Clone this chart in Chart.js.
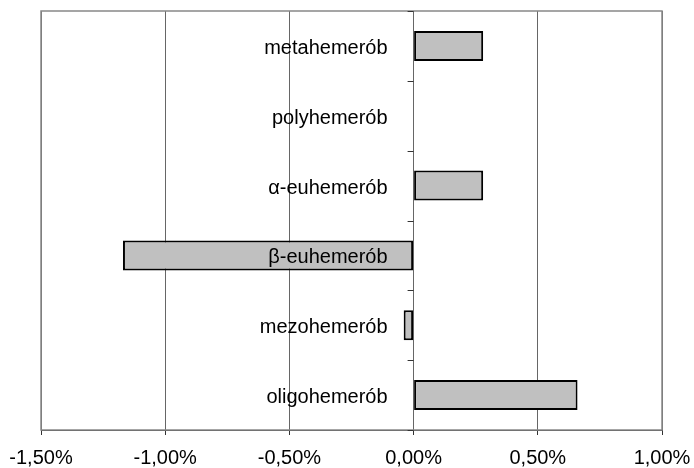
<!DOCTYPE html>
<html>
<head>
<meta charset="utf-8">
<script src="https://cdn.jsdelivr.net/npm/chart.js"></script>
<style>
  html, body { margin: 0; padding: 0; background: #fff; }
  #wrap { width: 694px; height: 468px; }
</style>
</head>
<body>
<div id="wrap"><canvas id="c" width="694" height="468"></canvas></div>
<script>
// categories top to bottom, values in percent
const categories = ['metahemerób', 'polyhemerób', 'α-euhemerób', 'β-euhemerób', 'mezohemerób', 'oligohemerób'];
const values = [0.28, 0, 0.28, -1.17, -0.04, 0.66];
const xTicks = [-1.5, -1.0, -0.5, 0, 0.5, 1.0];

const FONT = 'Liberation Sans, Arial, sans-serif';

// draws the category names next to the zero line, the little ticks on it and the frame
const innerLabels = {
  id: 'innerLabels',
  afterDatasetsDraw(chart) {
    const { ctx, chartArea: a, scales: { x, y } } = chart;
    const x0 = x.getPixelForValue(0);
    ctx.save();
    // frame
    ctx.strokeStyle = '#888';
    ctx.lineWidth = 1.5;
    ctx.strokeRect(a.left, a.top, a.right - a.left, a.bottom - a.top);
    // ticks between categories on the zero line
    ctx.strokeStyle = '#333';
    ctx.lineWidth = 1;
    for (let i = 0; i <= categories.length; i++) {
      const yy = Math.round(y.getPixelForValue(i - 0.5)) + 0.5;
      ctx.beginPath();
      ctx.moveTo(x0 - 6, yy);
      ctx.lineTo(x0, yy);
      ctx.stroke();
    }
    // labels
    ctx.fillStyle = '#000';
    ctx.font = '20px ' + FONT;
    ctx.textAlign = 'right';
    ctx.textBaseline = 'alphabetic';
    categories.forEach((c, i) => {
      ctx.fillText(c, x0 - 26, y.getPixelForValue(i) + 8);
    });
    ctx.restore();
  }
};

new Chart(document.getElementById('c').getContext('2d'), {
  type: 'bar',
  data: {
    labels: categories,
    datasets: [{
      data: values,
      backgroundColor: '#c0c0c0',
      borderColor: '#000',
      borderWidth: 2,
      borderSkipped: false,
      categoryPercentage: 1,
      barPercentage: 0.43
    }]
  },
  options: {
    indexAxis: 'y',
    responsive: false,
    animation: false,
    layout: { padding: { left: 41, right: 32, top: 11, bottom: 0 } },
    plugins: { legend: { display: false }, tooltip: { enabled: false } },
    scales: {
      x: {
        min: -1.5,
        max: 1.0,
        afterBuildTicks: s => { s.ticks = xTicks.map(v => ({ value: v })); },
        afterFit: s => { s.height = 38; s.paddingLeft = 0; s.paddingRight = 0; },
        grid: { color: '#666', lineWidth: 1, drawTicks: true, tickLength: 5, tickColor: '#333' },
        border: { color: '#333', width: 1 },
        ticks: {
          color: '#000',
          padding: 11,
          maxRotation: 0,
          font: { family: FONT, size: 20 },
          callback: v => v.toFixed(2).replace('.', ',') + '%'
        }
      },
      y: {
        display: false,
        offset: true
      }
    }
  },
  plugins: [innerLabels]
});
</script>
</body>
</html>
